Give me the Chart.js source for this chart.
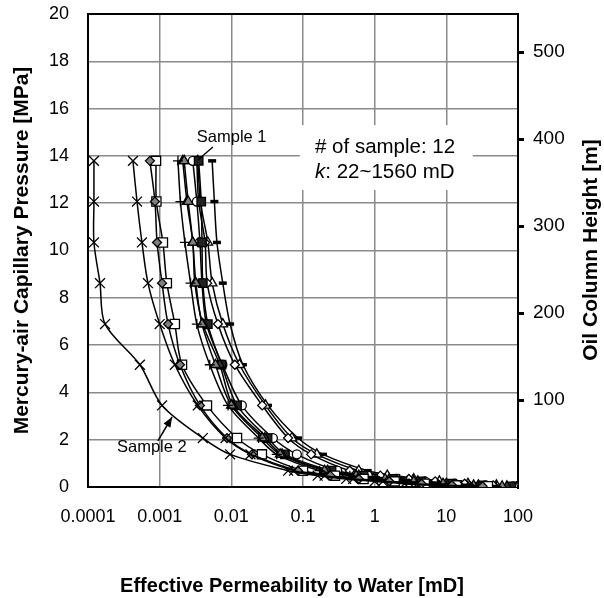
<!DOCTYPE html>
<html><head><meta charset="utf-8">
<script src="https://cdn.jsdelivr.net/npm/chart.js@4.4.0/dist/chart.umd.min.js"></script>
<style>html,body{margin:0;padding:0;background:#fff}</style>
</head><body>
<canvas id="c" width="604" height="598"></canvas>
<script>
// ---- data ----
const pressureLevels = [13.79, 12.07, 10.34, 8.62, 6.89, 5.17, 3.45, 2.07, 1.38, 0.69, 0.48, 0.34, 0.24, 0.14, 0.07, 0.03];
const kwSample2      = [1.21e-4, 1.21e-4, 1.21e-4, 1.47e-4, 1.73e-4, 5.3e-4, 1.08e-3, 4.0e-3, 9.6e-3, 0.062, 0.16, 0.4, 1.0, 2.6, 7, 18];
const kwCrossB       = [4.24e-4, 4.83e-4, 5.66e-4, 6.87e-4, 1.0e-3, 1.63e-3, 3.4e-3, 8.3e-3, 1.85e-2, 0.075, 0.2, 0.5, 1.3, 3.5, 9, 25];
const kwGreyDiamond  = [7.3e-4, 8.6e-4, 9.2e-4, 1.08e-3, 1.31e-3, 1.92e-3, 3.65e-3, 8.7e-3, 1.94e-2, 0.085, 0.24, 0.6, 1.6, 4.5, 12, 32];
const kwOpenSquare   = [8.9e-4, 9.0e-4, 1.11e-3, 1.26e-3, 1.63e-3, 2.05e-3, 4.57e-3, 1.2e-2, 2.67e-2, 0.1, 0.28, 0.7, 1.9, 5, 14, 38];
const kwPlus         = [1.8e-3, 1.95e-3, 2.25e-3, 2.7e-3, 3.3e-3, 5.0e-3, 9.0e-3, 2.4e-2, 4.3e-2, 0.17, 0.45, 1.1, 2.8, 7.5, 20, 50];
const kwGreyTri      = [2.2e-3, 2.5e-3, 2.9e-3, 3.2e-3, 3.9e-3, 6.0e-3, 1.0e-2, 2.7e-2, 4.8e-2, 0.2, 0.55, 1.4, 3.5, 9, 24, 60];
const kwBlackTri     = [2.1e-3, 2.4e-3, 2.9e-3, 3.1e-3, 4.0e-3, 6.9e-3, 1.05e-2, 2.94e-2, 5.1e-2, 0.22, 0.6, 1.6, 4, 10, 28, 70];
const kwDarkSquare   = [3.5e-3, 3.8e-3, 3.9e-3, 4.0e-3, 4.7e-3, 7.3e-3, 1.2e-2, 3.2e-2, 5.6e-2, 0.25, 0.7, 1.8, 4.5, 12, 32, 80];
const kwOpenCircle   = [2.9e-3, 3.3e-3, 3.65e-3, 3.9e-3, 4.5e-3, 7.5e-3, 1.4e-2, 3.8e-2, 8.2e-2, 0.3, 0.8, 2, 5, 13, 35, 85];
const kwOpenDiamond  = [3.3e-3, 3.5e-3, 4.3e-3, 4.6e-3, 6.5e-3, 1.12e-2, 2.7e-2, 6.2e-2, 0.13, 0.45, 1.2, 3, 7, 18, 45, 95];
const kwOpenTri      = [3.4e-3, 3.7e-3, 4.7e-3, 5.4e-3, 7.6e-3, 1.3e-2, 3.0e-2, 7.0e-2, 0.156, 0.6, 1.5, 3.5, 8, 20, 50, 100];
const kwDash         = [5.4e-3, 5.8e-3, 6.3e-3, 7.6e-3, 9.6e-3, 1.45e-2, 3.24e-2, 8.5e-2, 0.19, 0.8, 2, 4.5, 10, 24, 55, 100];

const xTickValues  = [0.0001, 0.001, 0.01, 0.1, 1, 10, 100];
const xTickLabels  = ['0.0001', '0.001', '0.01', '0.1', '1', '10', '100'];
const y2TickValues = [100, 200, 300, 400, 500];

const FONT = '"Liberation Sans", Arial, sans-serif';

function pts(arr){ return arr.map((v,i)=>({x:v, y:pressureLevels[i]})); }
function ds(arr, style, fill, r){
  return {data: pts(arr), showLine:true, borderColor:'#000', borderWidth:1.5, tension:0.3,
    pointStyle:style, pointRadius:r||4.5, pointBackgroundColor:fill, pointBorderColor:'#000', pointBorderWidth:1.3};
}
const datasets = [
  ds(kwSample2, 'crossRot', '#000', 7),
  ds(kwCrossB, 'crossRot', '#000', 7),
  ds(kwGreyDiamond, 'rectRot', '#7f7f7f', 4.5),
  ds(kwOpenSquare, 'rect', '#fff', 6.5),
  ds(kwPlus, 'cross', '#000', 5),
  ds(kwGreyTri, 'triangle', '#808080', 5.5),
  ds(kwBlackTri, 'triangle', '#333', 5.5),
  ds(kwDarkSquare, 'rect', '#222', 6),
  ds(kwOpenCircle, 'circle', '#fff', 4.5),
  ds(kwOpenDiamond, 'rectRot', '#fff', 4.5),
  ds(kwOpenTri, 'triangle', '#fff', 5.5),
  Object.assign(ds(kwDash, 'line', '#000', 4), {pointBorderWidth:3.5})
];

const annot = {
  id:'annot',
  beforeDatasetsDraw(chart){
    const {ctx, chartArea:a, scales:{x,y}} = chart;
    ctx.save();
    // info box
    const bx1 = x.getPixelForValue(0.09), bx2 = x.getPixelForValue(23.4);
    const by1 = y.getPixelForValue(15.3), by2 = y.getPixelForValue(12.56);
    ctx.fillStyle = '#fff';
    ctx.fillRect(bx1, by1, bx2-bx1, by2-by1);
    // frame
    ctx.strokeStyle = '#000'; ctx.lineWidth = 2;
    ctx.strokeRect(a.left, a.top, a.right-a.left, a.bottom-a.top);
    // info text
    ctx.fillStyle = '#000';
    ctx.textBaseline = 'middle'; ctx.textAlign = 'left';
    const tx = x.getPixelForValue(0.147);
    ctx.font = '20.5px ' + FONT;
    ctx.fillText('# of sample: 12', tx, y.getPixelForValue(14.35));
    ctx.font = 'italic 20.5px ' + FONT;
    ctx.fillText('k', tx, y.getPixelForValue(13.30));
    const kw = ctx.measureText('k').width;
    ctx.font = '20.5px ' + FONT;
    ctx.fillText(': 22~1560 mD', tx + kw, y.getPixelForValue(13.30));
    ctx.restore();
  },
  afterDatasetsDraw(chart){
    const {ctx, scales:{x,y}} = chart;
    ctx.save();
    ctx.fillStyle = '#000'; ctx.strokeStyle = '#000';
    ctx.font = '16.5px ' + FONT;
    ctx.textBaseline = 'middle'; ctx.textAlign = 'left';
    // Sample 1
    ctx.fillText('Sample 1', x.getPixelForValue(0.0033), y.getPixelForValue(14.8));
    ctx.lineWidth = 1.3;
    ctx.beginPath();
    ctx.moveTo(x.getPixelForValue(0.00553), y.getPixelForValue(14.38));
    ctx.lineTo(x.getPixelForValue(0.0034), y.getPixelForValue(13.83));
    ctx.stroke();
    // Sample 2
    ctx.fillText('Sample 2', x.getPixelForValue(2.54e-4), y.getPixelForValue(1.69));
    const ax0 = x.getPixelForValue(9.45e-4), ay0 = y.getPixelForValue(1.95);
    const ax1 = x.getPixelForValue(1.49e-3), ay1 = y.getPixelForValue(2.96);
    ctx.lineWidth = 1.5;
    ctx.beginPath(); ctx.moveTo(ax0, ay0); ctx.lineTo(ax1, ay1); ctx.stroke();
    const ang = Math.atan2(ay1-ay0, ax1-ax0), L = 10, W = 4;
    ctx.beginPath();
    ctx.moveTo(ax1, ay1);
    ctx.lineTo(ax1 - L*Math.cos(ang) + W*Math.sin(ang), ay1 - L*Math.sin(ang) - W*Math.cos(ang));
    ctx.lineTo(ax1 - L*Math.cos(ang) - W*Math.sin(ang), ay1 - L*Math.sin(ang) + W*Math.cos(ang));
    ctx.closePath(); ctx.fill();
    // axis titles
    ctx.textAlign = 'center';
    ctx.font = 'bold 20px ' + FONT;
    ctx.fillText('Effective Permeability to Water [mD]', 292, 586);
    ctx.font = 'bold 21px ' + FONT;
    ctx.save();
    ctx.translate(591, 250);
    ctx.rotate(-Math.PI/2);
    ctx.fillText('Oil Column Height [m]', 0, 0);
    ctx.restore();
    ctx.restore();
  }
};

new Chart(document.getElementById('c'), {
  type: 'scatter',
  data: { datasets },
  plugins: [annot],
  options: {
    responsive:false, animation:false,
    layout:{padding:{top:14, left:0, right:0, bottom:0}},
    plugins:{legend:{display:false}, tooltip:{enabled:false}},
    scales:{
      x:{ type:'logarithmic', position:'bottom', min:0.0001, max:100,
        afterBuildTicks(s){ s.ticks = xTickValues.map(v=>({value:v})); },
        afterFit(s){ s.height = 111; s.paddingLeft = 0; s.paddingRight = 0; },
        grid:{color:'#8a8a8a', lineWidth:1.5, drawTicks:false},
        border:{display:false},
        ticks:{ autoSkip:false, maxRotation:0, padding:19, color:'#000',
          font:{family:FONT, size:18},
          callback:(v,i)=>xTickLabels[i] }
      },
      y:{ type:'linear', position:'left', min:0, max:20,
        afterFit(s){ s.width = 88; s.paddingTop = 0; s.paddingBottom = 0; },
        grid:{color:'#8a8a8a', lineWidth:1.5, drawTicks:false},
        border:{display:false},
        ticks:{ stepSize:2, padding:19, color:'#000', font:{family:FONT, size:18} },
        title:{ display:true, text:'Mercury-air Capillary Pressure [MPa]', color:'#000',
          font:{family:FONT, size:21, weight:'bold'}, padding:{top:10, bottom:0} }
      },
      y2:{ type:'linear', position:'right', min:0, max:544,
        afterBuildTicks(s){ s.ticks = y2TickValues.map(v=>({value:v})); },
        afterFit(s){ s.width = 86; s.paddingTop = 0; s.paddingBottom = 0; },
        grid:{drawOnChartArea:false, drawTicks:true, tickLength:6, color:'#000', lineWidth:3},
        border:{display:true, color:'#000', width:2},
        ticks:{ padding:9, color:'#000', font:{family:FONT, size:19} }
      }
    }
  }
});
</script>
</body></html>
